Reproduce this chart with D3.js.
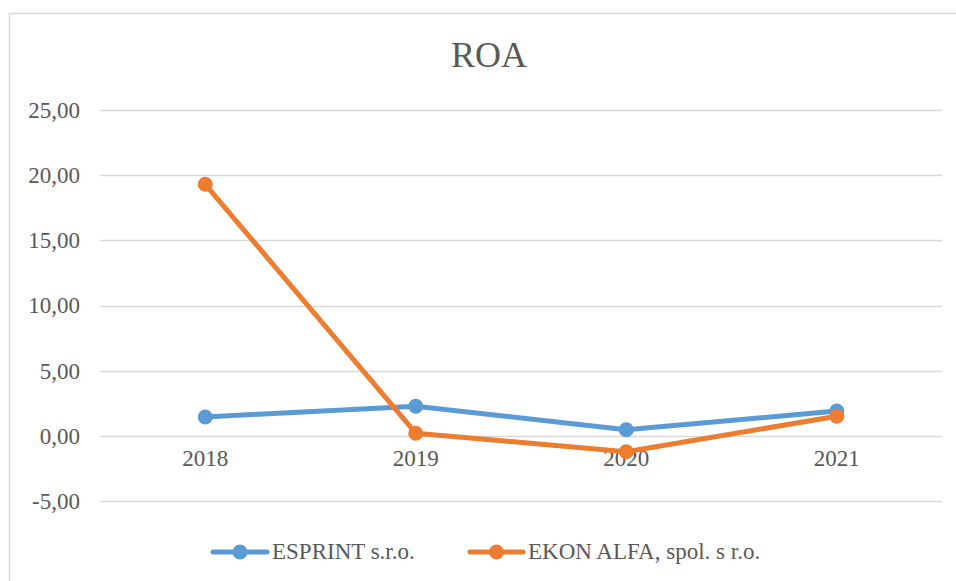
<!DOCTYPE html>
<html>
<head>
<meta charset="utf-8">
<script src="https://cdn.jsdelivr.net/npm/d3@7"></script>
<style>
  svg text { font-family: "Liberation Serif" !important; }
</style>
</head>
<body style="margin:0;background:#fff">
<svg id="chart" width="956" height="581" style="display:block"></svg>
<script>
const title = "ROA";
const categories = ["2018", "2019", "2020", "2021"];
const seriesNames = ["ESPRINT s.r.o.", "EKON ALFA, spol. s r.o."];
const esprint = [1.45, 2.27, 0.47, 1.9];
const ekonAlfa = [19.3, 0.2, -1.22, 1.5];
const yTicks = [-5, 0, 5, 10, 15, 20, 25];
const colors = ["#5b9bd5", "#ed7d31"];
const FONT = '"Liberation Serif"';
const TEXT = "#595959";

const svg = d3.select("#chart");

function serif(sel, size) {
  sel.attr("font-family", "Liberation Serif")
     .style("font-family", FONT, "important")
     .style("font-size", size + "px")
     .style("fill", TEXT);
}

// chart border
svg.append("rect")
  .attr("x", 9.5).attr("y", 13.5)
  .attr("width", 960).attr("height", 600)
  .attr("fill", "#fff")
  .attr("stroke", "#d9d9d9").attr("stroke-width", 1.5);

const plot = { left: 100, right: 942, top: 110, bottom: 501 };

const x = d3.scaleBand().domain(categories).range([plot.left, plot.right]);
const y = d3.scaleLinear().domain([-5, 25]).range([plot.bottom, plot.top]);

// title
svg.append("text")
  .attr("x", 489).attr("y", 67)
  .attr("text-anchor", "middle")
  .call(serif, 36)
  .text(title);

// gridlines
svg.append("g").selectAll("line")
  .data(yTicks)
  .join("line")
  .attr("x1", plot.left).attr("x2", plot.right)
  .attr("y1", d => Math.round(y(d)) + 0.5).attr("y2", d => Math.round(y(d)) + 0.5)
  .attr("stroke", "#d9d9d9").attr("stroke-width", 1.5);

// y axis labels
const fmt = d => d3.format(".2f")(d).replace(".", ",").replace("−", "-");
const yAxis = d3.axisLeft(y).tickValues(yTicks).tickFormat(fmt).tickSize(0).tickPadding(20);
const yg = svg.append("g").attr("transform", `translate(${plot.left},0)`).call(yAxis)
  .attr("font-family", "Liberation Serif");
yg.select(".domain").remove();
yg.selectAll("text").call(serif, 23);

// x axis labels (at y=0 line)
const xAxis = d3.axisBottom(x).tickSize(0).tickPadding(14);
const xg = svg.append("g").attr("transform", `translate(0,${y(0)})`).call(xAxis)
  .attr("font-family", "Liberation Serif");
xg.select(".domain").remove();
xg.selectAll("text").call(serif, 23);

// lines
const data = [esprint, ekonAlfa];
const line = d3.line()
  .x((d, i) => x(categories[i]) + x.bandwidth() / 2)
  .y(d => y(d));

data.forEach((vals, si) => {
  svg.append("path")
    .datum(vals)
    .attr("d", line)
    .attr("fill", "none")
    .attr("stroke", colors[si])
    .attr("stroke-width", 5)
    .attr("stroke-linejoin", "round")
    .attr("stroke-linecap", "round");
  svg.append("g").selectAll("circle")
    .data(vals)
    .join("circle")
    .attr("cx", (d, i) => x(categories[i]) + x.bandwidth() / 2)
    .attr("cy", d => y(d))
    .attr("r", 7.5)
    .attr("fill", colors[si]);
});

// legend
const legendY = 552;
const legendItems = [
  { x0: 213, x1: 267, tx: 272 },
  { x0: 470, x1: 523, tx: 528 }
];
legendItems.forEach((it, i) => {
  svg.append("line")
    .attr("x1", it.x0).attr("x2", it.x1)
    .attr("y1", legendY).attr("y2", legendY)
    .attr("stroke", colors[i]).attr("stroke-width", 5)
    .attr("stroke-linecap", "round");
  svg.append("circle")
    .attr("cx", (it.x0 + it.x1) / 2).attr("cy", legendY)
    .attr("r", 7.5).attr("fill", colors[i]);
  svg.append("text")
    .attr("x", it.tx).attr("y", legendY + 7)
    .call(serif, 23)
    .text(seriesNames[i]);
});
</script>
</body>
</html>
